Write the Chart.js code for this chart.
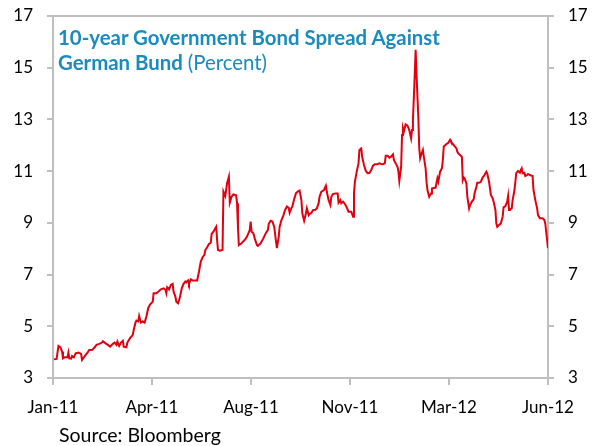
<!DOCTYPE html>
<html>
<head>
<meta charset="utf-8">
<script src="https://cdn.jsdelivr.net/npm/chart.js@4/dist/chart.umd.min.js"></script>
<style>
  html, body { margin: 0; padding: 0; background: #fff; }
  #wrap { position: relative; width: 594px; height: 446px; overflow: hidden; }
  #c { position: absolute; left: 0; top: 0; }
  #title { position: absolute; left: 58px; top: 25px; font-family: Lato, sans-serif; font-size: 20.4px; line-height: 25px; color: #1a8bbd; font-weight: bold; white-space: nowrap; }
  #title .n { font-weight: normal; }
  #source { position: absolute; left: 59px; top: 423px; font-family: Lato, sans-serif; font-size: 19.5px; color: #000; white-space: nowrap; }
</style>
</head>
<body>
<div id="wrap">
  <canvas id="c" width="594" height="446"></canvas>
  <div id="title">10-year Government Bond Spread Against<br>German Bund <span class="n">(Percent)</span></div>
  <div id="source">Source: Bloomberg</div>
</div>
<script>
// Days since 1 Jan 2011 (axis runs to 30 Jun 2012)
const days = [
  1,4,6,8,10,11,13,16,17,18,
  20,21,23,25,28,31,32,34,37,40,
  43,46,48,51,54,55,58,61,63,66,
  68,70,71,73,75,77,78,81,82,85,
  88,89,91,92,94,95,97,99,101,103,
  105,107,110,111,114,116,119,122,124,125,
  126,128,130,132,133,135,136,138,140,142,
  144,146,147,149,150,152,154,157,159,161,
  163,165,167,168,170,172,174,175,177,179,
  180,181,182,184,187,188,190,191,192,194,
  195,197,199,202,203,204,205,208,210,212,
  214,217,218,219,221,223,225,226,229,232,
  235,237,238,240,242,244,246,247,249,250,
  252,254,256,258,260,261,263,264,266,268,
  270,272,274,275,277,279,280,282,283,285,
  287,289,291,293,294,296,299,301,302,304,
  306,307,309,312,314,315,317,318,320,322,
  324,326,329,331,332,333,335,337,338,340,
  341,343,345,347,349,351,353,355,358,360,
  362,364,366,367,369,371,373,375,376,378,
  380,381,382,384,385,386,387,389,391,393,
  395,396,397,398,399,400,401,403,404,405,
  406,408,409,411,412,413,415,417,418,421,
  422,424,425,427,429,430,431,432,434,436,
  438,439,441,443,445,446,447,449,451,452,
  453,454,456,457,459,460,462,464,465,467,
  468,470,472,474,476,478,479,481,483,485,
  486,488,489,490,492,494,496,497,499,501,
  502,503,504,506,507,509,510,511,513,515,
  516,517,518,520,521,523,524,526,529,530,
  532,534,535,537,540,542,543,544,545,546
];
// 10-year spread vs German Bund (percent)
const spread = [
  3.72,3.74,4.24,4.19,4.02,3.76,3.80,3.80,3.98,3.76,
  3.75,3.85,3.80,3.95,3.98,3.93,3.70,3.80,3.93,4.08,
  4.08,4.19,4.28,4.32,4.37,4.42,4.34,4.27,4.21,4.32,
  4.37,4.28,4.41,4.24,4.37,4.44,4.21,4.19,4.37,4.54,
  4.67,4.86,5.14,5.22,5.19,5.40,5.14,5.19,5.14,5.37,
  5.70,5.84,5.95,6.28,6.28,6.34,6.43,6.47,6.41,6.28,
  6.51,6.43,6.60,6.64,6.34,6.15,5.95,5.89,6.12,6.47,
  6.64,6.73,6.70,6.77,6.64,6.82,6.77,6.77,6.77,7.11,
  7.50,7.67,7.76,7.95,8.06,8.18,8.23,8.57,8.66,8.79,
  8.85,8.34,7.95,7.92,7.95,10.21,10.04,10.27,10.53,10.79,
  9.78,10.01,10.10,10.07,9.76,8.85,8.14,8.21,8.29,8.36,
  8.47,8.72,9.05,8.66,8.60,8.34,8.14,8.11,8.21,8.40,
  8.62,8.72,8.96,9.08,9.05,8.85,8.27,8.02,8.47,8.85,
  9.11,9.27,9.50,9.63,9.58,9.39,9.58,9.63,9.91,10.14,
  10.21,10.25,9.88,9.37,9.08,9.37,9.56,9.30,9.34,9.39,
  9.50,9.50,9.56,9.76,10.01,10.21,10.27,10.43,10.21,9.88,
  9.69,10.01,10.12,10.14,10.14,9.78,9.88,9.76,9.82,9.73,
  9.60,9.43,9.43,9.24,10.14,10.59,10.98,11.30,11.82,11.88,
  11.56,11.24,11.01,10.92,10.93,11.04,11.21,11.27,11.27,11.30,
  11.28,11.27,11.30,11.60,11.60,11.52,11.56,11.65,11.43,11.30,
  11.17,10.98,10.62,11.17,12.40,12.66,12.53,12.81,12.76,12.59,
  12.27,12.59,12.98,13.82,14.72,15.69,14.72,13.04,11.88,11.50,
  11.62,11.82,11.56,11.11,10.59,10.27,10.01,10.14,10.33,10.36,
  10.36,10.72,10.59,10.98,11.11,11.43,11.95,11.98,12.05,12.10,
  12.21,12.14,12.05,11.97,11.88,11.75,11.69,11.62,11.56,10.66,
  10.76,10.72,10.53,10.01,9.56,9.69,9.82,9.91,10.14,10.40,
  10.55,10.55,10.59,10.76,10.85,10.98,10.91,10.59,10.08,9.95,
  9.82,9.50,8.98,8.85,8.92,8.98,9.24,9.60,9.65,9.82,
  10.04,9.50,9.52,9.56,9.88,10.27,10.59,10.92,11.01,10.94,
  11.04,11.11,10.92,10.94,10.81,10.85,10.89,10.85,10.81,10.27,
  9.88,9.56,9.30,9.18,9.18,9.11,8.98,8.66,8.34,8.02
];
const xTickLabels = ['Jan-11', 'Apr-11', 'Aug-11', 'Nov-11', 'Mar-12', 'Jun-12'];
const yMin = 3, yMax = 17, yStep = 2;
const xMax = 546;

const axisGrey = '#bfbfbf';
const tickFont = { family: 'Lato', size: 17 };

const points = days.map((d, i) => ({ x: d, y: spread[i] }));

const topBorder = {
  id: 'topBorder',
  afterDraw(chart) {
    const { ctx, chartArea } = chart;
    ctx.save();
    ctx.strokeStyle = axisGrey;
    ctx.lineWidth = 2;
    ctx.beginPath();
    ctx.moveTo(chartArea.left - 1, chartArea.top);
    ctx.lineTo(chartArea.right + 1, chartArea.top);
    ctx.stroke();
    ctx.restore();
  }
};

function yAxis(position, width) {
  return {
    type: 'linear',
    position,
    min: yMin, max: yMax,
    grid: { drawOnChartArea: false, drawTicks: true, tickLength: 6, color: axisGrey, lineWidth: 2 },
    border: { display: true, color: axisGrey, width: 2 },
    ticks: { stepSize: yStep, font: tickFont, color: '#000', padding: 14 },
    afterFit(s) { s.width = width; s.paddingTop = 0; s.paddingBottom = 0; }
  };
}

new Chart(document.getElementById('c'), {
  type: 'line',
  data: {
    datasets: [{
      data: points,
      borderColor: '#e1000f',
      borderWidth: 2,
      pointRadius: 0,
      tension: 0,
      fill: false
    }]
  },
  options: {
    responsive: false,
    animation: false,
    layout: { padding: { top: 16, left: 0, right: 0, bottom: 0 } },
    plugins: { legend: { display: false }, tooltip: { enabled: false }, title: { display: false } },
    scales: {
      x: {
        type: 'linear',
        min: 0, max: xMax,
        grid: { drawOnChartArea: false, drawTicks: true, tickLength: 7, color: axisGrey, lineWidth: 2 },
        border: { display: true, color: axisGrey, width: 2 },
        ticks: {
          font: tickFont, color: '#000', padding: 12, maxRotation: 0, autoSkip: false,
          callback: (v, i) => xTickLabels[i]
        },
        afterBuildTicks(s) {
          s.ticks = xTickLabels.map((_, i) => ({ value: i * xMax / (xTickLabels.length - 1) }));
        },
        afterFit(s) { s.height = 68; s.paddingLeft = 0; s.paddingRight = 0; }
      },
      y: yAxis('left', 53),
      y2: yAxis('right', 46)
    }
  },
  plugins: [topBorder]
});
</script>
</body>
</html>
